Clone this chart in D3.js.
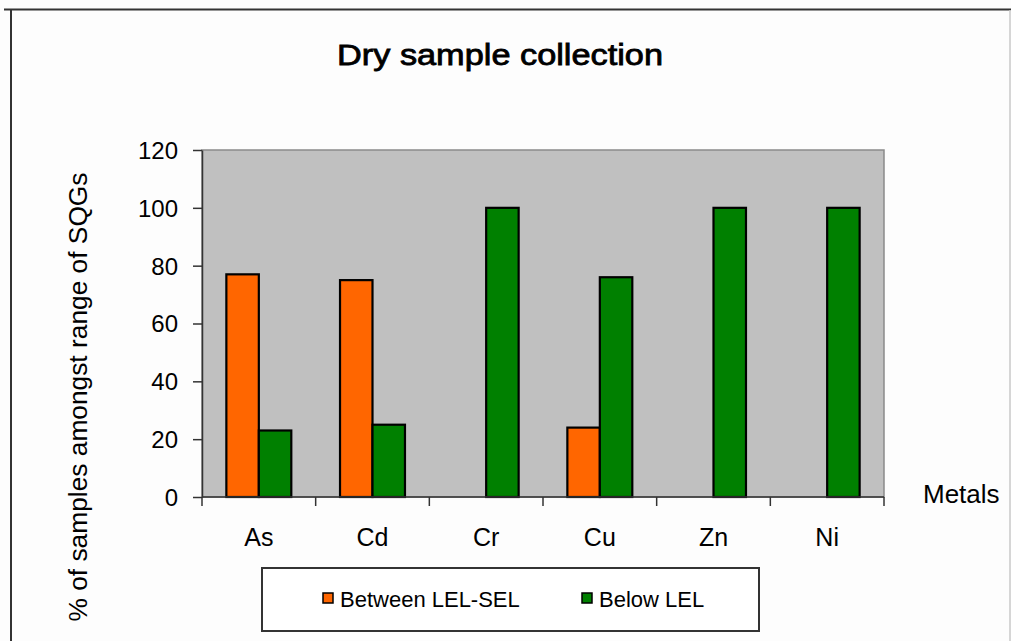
<!DOCTYPE html>
<html>
<head>
<meta charset="utf-8">
<script src="https://cdn.jsdelivr.net/npm/d3@7"></script>
<style>
  body { margin: 0; background: #fff; }
  svg { display: block; font-family: Arial, "Liberation Sans", sans-serif; }
</style>
</head>
<body>
<div id="chart"></div>
<script>
// data
const metals = ["As", "Cd", "Cr", "Cu", "Zn", "Ni"];
const betweenLelSel = [77, 75, 0, 24, 0, 0];
const belowLel = [23, 25, 100, 76, 100, 100];
const yTicks = [0, 20, 40, 60, 80, 100, 120];
const seriesNames = ["Between LEL-SEL", "Below LEL"];
const seriesColors = ["#ff6600", "#008000"];

const W = 1011, H = 641;
const plot = { left: 202, right: 884, top: 150, bottom: 497 };

const svg = d3.select("#chart").append("svg")
    .attr("width", W).attr("height", H);

svg.append("rect").attr("width", W).attr("height", H).attr("fill", "#fdfdfd");

// outer chart frame
svg.append("line").attr("x1", 4).attr("x2", W).attr("y1", 9.5).attr("y2", 9.5)
    .attr("stroke", "#333").attr("stroke-width", 2);
svg.append("line").attr("x1", 11).attr("x2", 11).attr("y1", 9).attr("y2", H)
    .attr("stroke", "#333").attr("stroke-width", 2);
svg.append("line").attr("x1", 1010).attr("x2", 1010).attr("y1", 10).attr("y2", H)
    .attr("stroke", "#c8c8c8").attr("stroke-width", 1.5);

// title
svg.append("text")
    .attr("x", 500).attr("y", 65)
    .attr("text-anchor", "middle")
    .attr("textLength", 326).attr("lengthAdjust", "spacingAndGlyphs")
    .style("font-size", "29px")
    .attr("stroke", "#000").attr("stroke-width", 0.8)
    .text("Dry sample collection");

// scales
const x = d3.scaleBand().domain(metals).range([plot.left, plot.right]).padding(0);
const xSub = d3.scaleBand().domain(seriesNames)
    .range([x.bandwidth() * 0.75 / 3.5, x.bandwidth() - x.bandwidth() * 0.75 / 3.5])
    .padding(0);
const y = d3.scaleLinear().domain([0, 120]).range([plot.bottom, plot.top]);

// plot area
svg.append("rect")
    .attr("x", plot.left).attr("y", plot.top)
    .attr("width", plot.right - plot.left).attr("height", plot.bottom - plot.top)
    .attr("fill", "#c0c0c0")
    .attr("stroke", "#8a8a8a").attr("stroke-width", 1.5);

// bars
const rows = metals.map((m, i) => ({ metal: m, values: [betweenLelSel[i], belowLel[i]] }));
const groups = svg.selectAll(".metal")
    .data(rows)
    .enter().append("g")
    .attr("transform", d => `translate(${x(d.metal)},0)`);

groups.selectAll("rect")
    .data(d => d.values.map((v, k) => ({ key: seriesNames[k], value: v, color: seriesColors[k] })))
    .enter().append("rect")
    .filter(d => d.value > 0)
    .attr("x", d => xSub(d.key))
    .attr("y", d => y(d.value))
    .attr("width", xSub.bandwidth())
    .attr("height", d => y(0) - y(d.value))
    .attr("fill", d => d.color)
    .attr("stroke", "#000").attr("stroke-width", 2.2);

// y axis
const yAxis = svg.append("g")
    .attr("transform", `translate(${plot.left},0)`)
    .call(d3.axisLeft(y).tickValues(yTicks).tickSize(9).tickPadding(15).tickSizeOuter(0));
yAxis.select(".domain").attr("stroke", "#333").attr("stroke-width", 1.5);
yAxis.selectAll(".tick line").attr("stroke", "#333").attr("stroke-width", 1.5);
yAxis.selectAll("text").style("font-size", "24px").attr("fill", "#000")
    .attr("font-family", "Arial, 'Liberation Sans', sans-serif").attr("dy", "0.35em");

// x axis: ticks on category boundaries
const boundaries = metals.map(m => x(m)).concat([plot.right]);
const xAxis = svg.append("g");
xAxis.append("line")
    .attr("x1", plot.left).attr("x2", plot.right)
    .attr("y1", plot.bottom).attr("y2", plot.bottom)
    .attr("stroke", "#333").attr("stroke-width", 1.5);
xAxis.selectAll(".btick")
    .data(boundaries)
    .enter().append("line")
    .attr("x1", d => d).attr("x2", d => d)
    .attr("y1", plot.bottom).attr("y2", plot.bottom + 9)
    .attr("stroke", "#333").attr("stroke-width", 1.5);
xAxis.selectAll(".lbl")
    .data(metals)
    .enter().append("text")
    .attr("x", d => x(d) + x.bandwidth() / 2)
    .attr("y", 546)
    .attr("text-anchor", "middle")
    .style("font-size", "25px")
    .text(d => d);

// axis titles
svg.append("text")
    .attr("x", 923).attr("y", 503)
    .style("font-size", "26px")
    .text("Metals");

svg.append("text")
    .attr("transform", "translate(87,397) rotate(-90)")
    .attr("text-anchor", "middle")
    .attr("textLength", 449).attr("lengthAdjust", "spacingAndGlyphs")
    .style("font-size", "25px")
    .text("% of samples amongst range of SQGs");

// legend
const legend = svg.append("g");
legend.append("rect")
    .attr("x", 262).attr("y", 568).attr("width", 497).attr("height", 63)
    .attr("fill", "#fff").attr("stroke", "#333").attr("stroke-width", 2);
const legendX = [323, 582];
seriesNames.forEach((name, i) => {
    legend.append("rect")
        .attr("x", legendX[i]).attr("y", 593).attr("width", 10).attr("height", 10)
        .attr("fill", seriesColors[i]).attr("stroke", "#000").attr("stroke-width", 1.5);
    legend.append("text")
        .attr("x", legendX[i] + 17).attr("y", 607)
        .style("font-size", "22px")
        .text(name);
});
</script>
</body>
</html>
